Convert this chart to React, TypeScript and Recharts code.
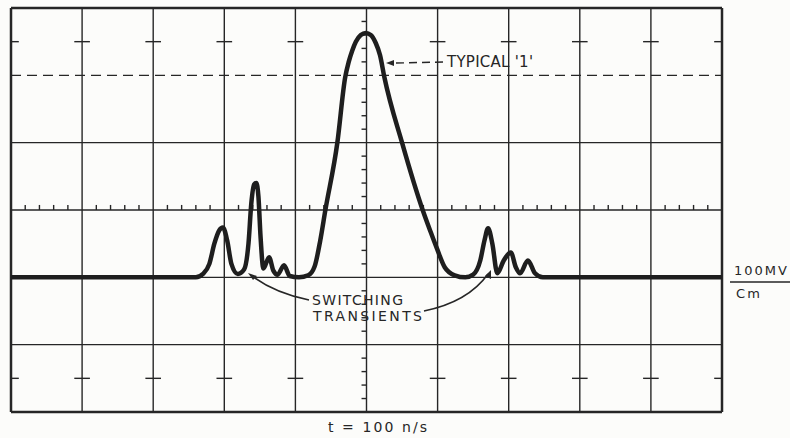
import { LineChart, Line, XAxis, YAxis, ReferenceLine } from 'recharts'

// time in graticule divisions (1 div = 100 ns), signal in divisions above the baseline
const timeDiv = [
  0, 2.6, 2.7, 2.79, 2.86, 2.93, 2.98, 3.04, 3.1, 3.19, 3.28, 3.34, 3.38, 3.42, 3.45, 3.48, 3.51, 3.55,
  3.63, 3.69, 3.75, 3.84, 3.92, 4.05, 4.18, 4.27, 4.35, 4.42, 4.59, 4.7, 4.75, 4.8, 4.85, 4.92, 4.99, 5.06,
  5.13, 5.19, 5.25, 5.5, 5.79, 5.9, 5.99, 6.1, 6.24, 6.39, 6.5, 6.6, 6.66, 6.71, 6.77, 6.84, 6.93, 7.03,
  7.1, 7.16, 7.27, 7.37, 7.48, 10,
]
const signal = [
  0, 0, 0.05, 0.2, 0.5, 0.7, 0.74, 0.55, 0.2, 0.05, 0.12, 0.5, 1.1, 1.38, 1.4, 1.2, 0.6, 0.13,
  0.3, 0.1, 0.04, 0.18, 0.02, 0, 0.03, 0.16, 0.55, 0.99, 2.0, 2.97, 3.2, 3.37, 3.5, 3.6, 3.63, 3.6,
  3.48, 3.3, 2.98, 2.0, 1.0, 0.68, 0.43, 0.15, 0.03, 0, 0.04, 0.25, 0.55, 0.73, 0.5, 0.06, 0.25, 0.37,
  0.15, 0.06, 0.25, 0.06, 0, 0,
]
const xGrid = [0, 1, 2, 3, 4, 5, 6, 7, 8, 9, 10]
const yGrid = [-2, -1, 0, 1, 2, 4]
const typicalOne = 3
const crossRows = [3.5, -1.5]

const INK = '#262626'
const FONT = '"DejaVu Sans", "Liberation Sans", sans-serif'

const data = timeDiv.map((t, i) => ({ t, v: signal[i] }))

// minor graticule marks on the centre lines
const hMinor: number[] = []
for (let k = 0; k < 10; k++) for (let j = 1; j < 5; j++) hMinor.push(k + j * 0.2)
const vMinor: number[] = []
for (let k = -2; k < 4; k++) for (let j = 1; j < 5; j++) vMinor.push(k + j * 0.2)

export default function App() {
  return (
    <div style={{ position: 'absolute', left: 0, top: 0, width: 790, height: 438, background: '#fcfcfa' }}>
      <LineChart width={790} height={438} data={data} margin={{ top: 8, right: 68, left: 11, bottom: 26 }}>
        <XAxis dataKey="t" type="number" domain={[0, 10]} hide />
        <YAxis type="number" domain={[-2, 4]} hide />
        {xGrid.map((x) => (
          <ReferenceLine key={`x${x}`} x={x} stroke={INK} strokeWidth={x === 0 || x === 10 ? 2.5 : 1.4} />
        ))}
        {yGrid.map((y) => (
          <ReferenceLine key={`y${y}`} y={y} stroke={INK} strokeWidth={y === -2 || y === 4 ? 2.5 : 1.4} />
        ))}
        <ReferenceLine y={typicalOne} stroke={INK} strokeWidth={1.4} strokeDasharray="10 6" />
        {crossRows.flatMap((r) =>
          xGrid.filter((x) => x !== 5).map((x) => (
            <ReferenceLine
              key={`c${r}-${x}`}
              segment={[{ x: Math.max(0, x - 0.11), y: r }, { x: Math.min(10, x + 0.11), y: r }]}
              stroke={INK}
              strokeWidth={1.4}
            />
          )),
        )}
        {hMinor.map((x) => (
          <ReferenceLine key={`h${x}`} segment={[{ x, y: 1 }, { x, y: 1.075 }]} stroke={INK} strokeWidth={1.4} />
        ))}
        {vMinor.map((y) => (
          <ReferenceLine key={`v${y}`} segment={[{ x: 4.93, y }, { x: 5, y }]} stroke={INK} strokeWidth={1.4} />
        ))}
        <Line
          type="monotone"
          dataKey="v"
          stroke="#1e1e1e"
          strokeWidth={4.5}
          strokeLinejoin="round"
          dot={false}
          isAnimationActive={false}
        />
      </LineChart>
      <svg
        width={790}
        height={438}
        style={{ position: 'absolute', left: 0, top: 0, pointerEvents: 'none' }}
        fontFamily={FONT}
        fill={INK}
      >
        {/* TYPICAL '1' callout */}
        <path d="M396 63 L444 62" stroke={INK} strokeWidth={1.4} strokeDasharray="8 5" fill="none" />
        <path d="M386 63 L394 60 L394 66 Z" fill={INK} />
        <text x={447} y={67} fontSize={15} textLength={86}>TYPICAL '1'</text>

        {/* switching transients callout */}
        <text x={312} y={305} fontSize={14} textLength={91}>SWITCHING</text>
        <text x={313} y={321} fontSize={14} textLength={109}>TRANSIENTS</text>
        <path d="M309 300 Q 275 293 252 276" stroke={INK} strokeWidth={1.6} fill="none" />
        <path d="M248 273 L257 276 L253 280 Z" fill={INK} />
        <path d="M424 311 Q 468 302 488 274" stroke={INK} strokeWidth={1.6} fill="none" />
        <path d="M491 270 L491 279 L485 276 Z" fill={INK} />

        {/* vertical scale */}
        <text x={734} y={275} fontSize={13} textLength={53}>100MV</text>
        <line x1={730} y1={282} x2={790} y2={282} stroke={INK} strokeWidth={1.4} />
        <text x={736} y={298} fontSize={13} textLength={24}>Cm</text>

        {/* time base */}
        <text x={328} y={432} fontSize={14} textLength={99}>t = 100 n/s</text>
      </svg>
    </div>
  )
}
